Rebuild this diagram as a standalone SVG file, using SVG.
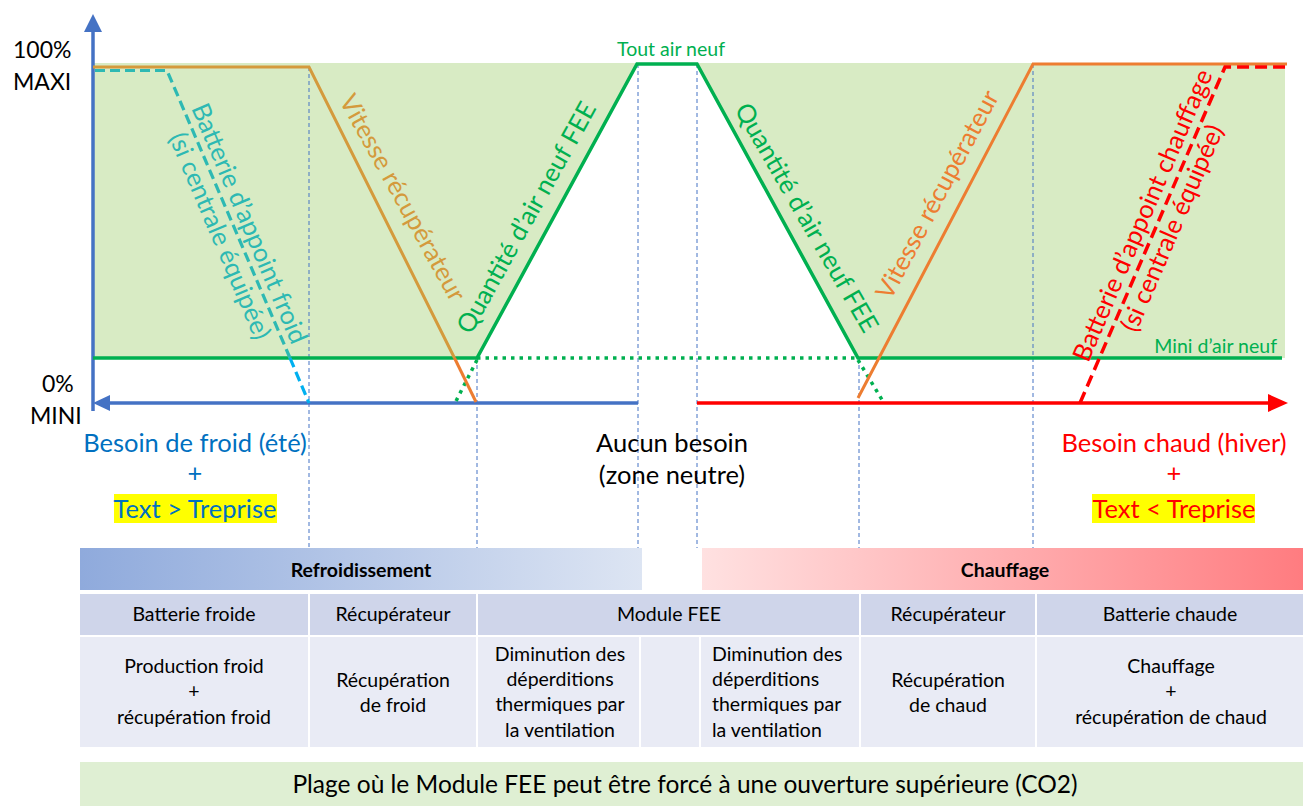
<svg xmlns="http://www.w3.org/2000/svg" width="1303" height="806" viewBox="0 0 1303 806">
<defs>
<style>
text{font-family:Lato,"Liberation Sans",sans-serif}
.ax{font-size:23px;fill:#000}
.big{font-size:25.5px}
.rot{font-size:25.5px;text-anchor:middle}
.tb{font-size:19.5px;fill:#000;text-anchor:middle}
.tbl{font-size:19.5px;fill:#000}
.hd{font-size:19.5px;font-weight:bold;fill:#000;text-anchor:middle}
.guide{stroke:#4472C4;stroke-width:1;stroke-dasharray:4 3;fill:none}
.grn{stroke:#00B050;stroke-width:3.5;fill:none}
.dot{stroke:#00B050;stroke-width:3.5;stroke-dasharray:3.5 5;fill:none}
.hcell{fill:#CFD5EA}
.bcell{fill:#E9EBF5}
</style>
<linearGradient id="gBlue" x1="0" y1="0" x2="1" y2="0">
<stop offset="0" stop-color="#8FAADC"/><stop offset="1" stop-color="#DDE5F3"/>
</linearGradient>
<linearGradient id="gRed" x1="0" y1="0" x2="1" y2="0">
<stop offset="0" stop-color="#FFE1E1"/><stop offset="1" stop-color="#FF7C80"/>
</linearGradient>
</defs>

<g id="fill">
<polygon points="93,63 637,63 477,358 93,358" fill="#D8EBC4"/>
<polygon points="697,63 1285,63 1285,358 858,358" fill="#D8EBC4"/>
</g>

<g id="guides">
<line class="guide" x1="309" y1="67" x2="309" y2="548"/>
<line class="guide" x1="477" y1="358" x2="477" y2="548"/>
<line class="guide" x1="638" y1="64" x2="638" y2="548"/>
<line class="guide" x1="697" y1="64" x2="697" y2="548"/>
<line class="guide" x1="859" y1="358" x2="859" y2="548"/>
<line class="guide" x1="1033" y1="64" x2="1033" y2="548"/>
</g>

<g id="connectors">
<line x1="93" y1="30" x2="93" y2="411" stroke="#4472C4" stroke-width="3.5"/>
<polygon points="93,14 84,32 102,32" fill="#4472C4"/>
<line x1="106" y1="403" x2="638" y2="403" stroke="#4472C4" stroke-width="3.5"/>
<polygon points="93,403 110,395 110,411" fill="#4472C4"/>
<line x1="697" y1="403" x2="1272" y2="403" stroke="#FF0000" stroke-width="3.5"/>
<polygon points="1288,403 1268,394 1268,412" fill="#FF0000"/>
<polyline class="grn" points="93,358 477,358 637,64 697,64 858,358 1282,358"/>
<line class="dot" x1="477" y1="358" x2="858" y2="358"/>
<line class="dot" x1="477" y1="360" x2="455" y2="403"/>
<line class="dot" x1="858" y1="360" x2="884" y2="403"/>
<polyline points="93,67 309,67 454.5,358" fill="none" stroke="#D49A3C" stroke-width="3"/>
<line x1="454.5" y1="358" x2="476" y2="402" stroke="#ED7D31" stroke-width="3"/>
<polyline points="95,70.5 167,70.5 290,358" fill="none" stroke="#2DB9B3" stroke-width="3.2" stroke-dasharray="10 5"/>
<line x1="290" y1="358" x2="309" y2="403" stroke="#00B0F0" stroke-width="3.2" stroke-dasharray="10 5"/>
<polyline points="858,398 1033,64 1287,64" fill="none" stroke="#ED7D31" stroke-width="3"/>
<polyline points="1080,403 1225,67 1287,67" fill="none" stroke="#FF0000" stroke-width="3.5" stroke-dasharray="12 6"/>
</g>

<g id="axis-labels">
<text class="ax" x="13" y="58">100%</text>
<text class="ax" x="13" y="90">MAXI</text>
<text class="ax" x="42" y="392">0%</text>
<text class="ax" x="30" y="424">MINI</text>
</g>

<g id="curve-labels">
<text x="671" y="56" font-size="19.5" fill="#00B050" text-anchor="middle">Tout air neuf</text>
<text x="1277" y="353" font-size="19.5" fill="#00B050" text-anchor="end">Mini d’air neuf</text>
<g transform="translate(234,230) rotate(67)">
<text class="rot" y="-8" fill="#2DB9B3">Batterie d’appoint froid</text>
<text class="rot" y="24" fill="#2DB9B3">(si centrale équipée)</text>
</g>
<g transform="translate(402,198) rotate(61)"><text class="rot" y="8" fill="#D49A3C">Vitesse récupérateur</text></g>
<g transform="translate(527,218) rotate(-61)"><text class="rot" y="8" fill="#00B050">Quantité d’air neuf FEE</text></g>
<g transform="translate(806,218) rotate(60)"><text class="rot" y="8" fill="#00B050">Quantité d’air neuf FEE</text></g>
<g transform="translate(938,195) rotate(-62)"><text class="rot" y="8" fill="#ED7D31">Vitesse récupérateur</text></g>
<g transform="translate(1158,222) rotate(-66.7)">
<text class="rot" y="-8" fill="#FF0000">Batterie d’appoint chauffage</text>
<text class="rot" y="24" fill="#FF0000">(si centrale équipée)</text>
</g>
</g>

<g id="zone-froid">
<text class="big" x="195" y="452" fill="#0070C0" text-anchor="middle">Besoin de froid (été)</text>
<text class="big" x="195" y="482" fill="#0070C0" text-anchor="middle">+</text>
<rect x="114" y="494" width="163" height="29" fill="#FFFF00"/>
<text class="big" x="195" y="518" fill="#0070C0" text-anchor="middle">Text &gt; Treprise</text>
</g>
<g id="zone-neutre">
<text class="big" x="672" y="452" fill="#000" text-anchor="middle">Aucun besoin</text>
<text class="big" x="672" y="484" fill="#000" text-anchor="middle">(zone neutre)</text>
</g>
<g id="zone-chaud">
<text class="big" x="1174" y="452" fill="#FF0000" text-anchor="middle">Besoin chaud (hiver)</text>
<text class="big" x="1174" y="482" fill="#FF0000" text-anchor="middle">+</text>
<rect x="1092" y="494" width="163" height="29" fill="#FFFF00"/>
<text class="big" x="1174" y="518" fill="#FF0000" text-anchor="middle">Text &lt; Treprise</text>
</g>

<g id="bar-refroidissement">
<rect x="80" y="548" width="562" height="42" fill="url(#gBlue)"/>
<text class="hd" x="361" y="577">Refroidissement</text>
</g>
<g id="bar-chauffage">
<rect x="702" y="548" width="601" height="42" fill="url(#gRed)"/>
<text class="hd" x="1005" y="577">Chauffage</text>
</g>

<g id="table-header">
<rect class="hcell" x="80" y="594" width="228" height="41"/>
<rect class="hcell" x="310" y="594" width="166" height="41"/>
<rect class="hcell" x="478" y="594" width="381" height="41"/>
<rect class="hcell" x="861" y="594" width="174" height="41"/>
<rect class="hcell" x="1037" y="594" width="266" height="41"/>
<text class="tb" x="194" y="621">Batterie froide</text>
<text class="tb" x="393" y="621">Récupérateur</text>
<text class="tb" x="669" y="621">Module FEE</text>
<text class="tb" x="948" y="621">Récupérateur</text>
<text class="tb" x="1170" y="621">Batterie chaude</text>
</g>

<g id="table-body">
<rect class="bcell" x="80" y="637" width="228" height="110"/>
<rect class="bcell" x="310" y="637" width="166" height="110"/>
<rect class="bcell" x="478" y="637" width="161" height="110"/>
<rect class="bcell" x="641" y="637" width="58" height="110"/>
<rect class="bcell" x="701" y="637" width="158" height="110"/>
<rect class="bcell" x="861" y="637" width="174" height="110"/>
<rect class="bcell" x="1037" y="637" width="266" height="110"/>
<text class="tb" x="194" y="673">Production froid</text>
<text class="tb" x="194" y="698">+</text>
<text class="tb" x="194" y="724">récupération froid</text>
<text class="tb" x="393" y="687">Récupération</text>
<text class="tb" x="393" y="712">de froid</text>
<text class="tb" x="560" y="661">Diminution des</text>
<text class="tb" x="560" y="686">déperditions</text>
<text class="tb" x="560" y="711">thermiques par</text>
<text class="tb" x="560" y="737">la ventilation</text>
<text class="tbl" x="712" y="661">Diminution des</text>
<text class="tbl" x="712" y="686">déperditions</text>
<text class="tbl" x="712" y="711">thermiques par</text>
<text class="tbl" x="712" y="737">la ventilation</text>
<text class="tb" x="948" y="687">Récupération</text>
<text class="tb" x="948" y="712">de chaud</text>
<text class="tb" x="1171" y="673">Chauffage</text>
<text class="tb" x="1171" y="698">+</text>
<text class="tb" x="1171" y="724">récupération de chaud</text>
</g>

<g id="bottom-bar">
<rect x="80" y="762" width="1223" height="44" fill="#DFEFD3"/>
<text x="685" y="793" font-size="24.5" fill="#000" text-anchor="middle">Plage où le Module FEE peut être forcé à une ouverture supérieure (CO2)</text>
</g>
</svg>
